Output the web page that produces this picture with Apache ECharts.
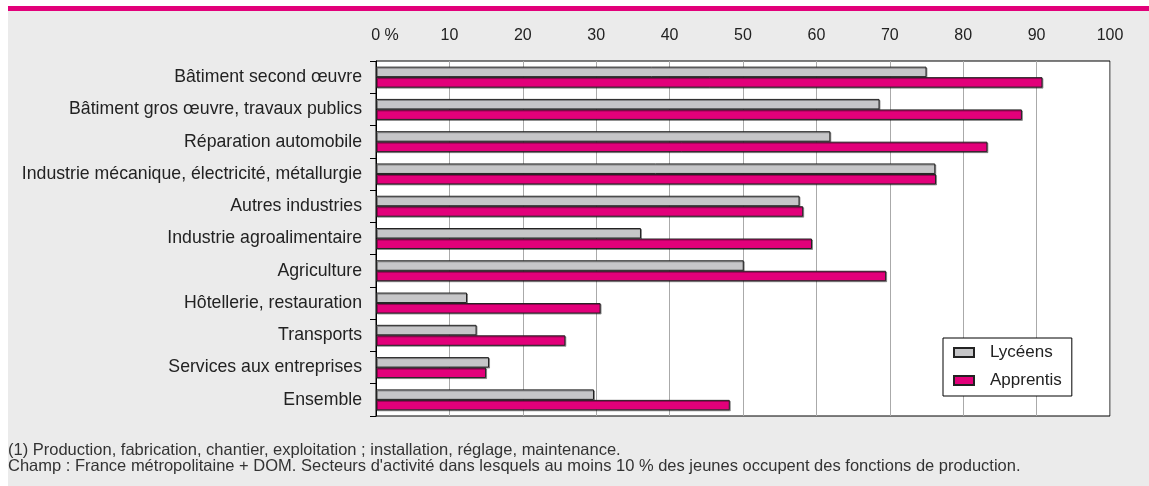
<!DOCTYPE html>
<html>
<head>
<meta charset="utf-8">
<script src="https://cdn.jsdelivr.net/npm/echarts@6/dist/echarts.min.js"></script>
<style>html,body{margin:0;padding:0;background:#fff}#c{width:1149px;height:486px}</style>
</head>
<body>
<div id="c"></div>
<script>
const categories = ['Bâtiment second œuvre','Bâtiment gros œuvre, travaux publics','Réparation automobile','Industrie mécanique, électricité, métallurgie','Autres industries','Industrie agroalimentaire','Agriculture','Hôtellerie, restauration','Transports','Services aux entreprises','Ensemble'];
const lyceens = [75.0, 68.6, 61.9, 76.2, 57.7, 36.1, 50.1, 12.4, 13.7, 15.4, 29.7];
const apprentis = [90.8, 88.0, 83.3, 76.3, 58.2, 59.4, 69.5, 30.6, 25.8, 15.0, 48.2];
const seriesNames = ['Lycéens', 'Apprentis'];
const footnotes = [
  '(1) Production, fabrication, chantier, exploitation ; installation, réglage, maintenance.',
  "Champ : France métropolitaine + DOM. Secteurs d'activité dans lesquels au moins 10 % des jeunes occupent des fonctions de production."
];

const FONT = 'Liberation Sans';
const chart = echarts.init(document.getElementById('c'), null, {renderer: 'canvas'});
chart.setOption({
  backgroundColor: '#ffffff',
  animation: false,
  textStyle: {fontFamily: FONT},
  graphic: [
    {type: 'rect', z: -10, silent: true, shape: {x: 8, y: 11, width: 1141, height: 475}, style: {fill: '#ebebeb'}},
    {type: 'rect', z: -10, silent: true, shape: {x: 8, y: 6, width: 1141, height: 5}, style: {fill: '#e2007a'}},
    {type: 'text', left: 8, top: 442, style: {text: footnotes[0], font: '16.5px "Liberation Sans"', fill: '#333'}},
    {type: 'text', left: 8, top: 458, style: {text: footnotes[1], font: '16.5px "Liberation Sans"', fill: '#333'}}
  ],
  grid: {left: 376, right: 39, top: 61, bottom: 70, show: true, backgroundColor: '#ffffff', borderColor: '#000', borderWidth: 1, containLabel: false},
  legend: {
    orient: 'vertical', left: 943, top: 338,
    backgroundColor: '#ffffff', borderColor: '#000', borderWidth: 1,
    padding: [6, 10, 7, 10], itemWidth: 20, itemHeight: 9, itemGap: 11,
    icon: 'rect',
    textStyle: {fontSize: 17, color: '#222', fontFamily: FONT, padding: [0, 0, 0, 11]},
    data: seriesNames
  },
  xAxis: {
    type: 'value', position: 'top', min: 0, max: 100, interval: 10,
    axisLine: {show: false}, axisTick: {show: false},
    splitLine: {show: true, lineStyle: {color: '#aaaaaa', width: 1}},
    axisLabel: {
      fontSize: 16, color: '#222', margin: 17, fontFamily: FONT,
      formatter: function (v) { return v === 0 ? '{z|0 %}' : String(v); },
      rich: {z: {fontSize: 16, color: '#222', fontFamily: FONT, padding: [0, 0, 0, 18]}}
    }
  },
  yAxis: {
    type: 'category', data: categories, inverse: true,
    axisLine: {show: true, lineStyle: {color: '#000'}},
    axisTick: {show: true, length: 6, lineStyle: {color: '#000'}},
    axisLabel: {fontSize: 17.7, color: '#222', margin: 14, fontFamily: FONT}
  },
  series: [
    {name: seriesNames[0], type: 'bar', data: lyceens, barGap: '0%', barCategoryGap: '35%',
     itemStyle: {color: '#c6c6c8', borderColor: '#222', borderWidth: 1, shadowColor: 'rgba(0,0,0,0.35)', shadowOffsetX: 1, shadowOffsetY: 1}},
    {name: seriesNames[1], type: 'bar', data: apprentis, barGap: '0%', barCategoryGap: '35%',
     itemStyle: {color: '#e2007a', borderColor: '#222', borderWidth: 1, shadowColor: 'rgba(0,0,0,0.35)', shadowOffsetX: 1, shadowOffsetY: 1}}
  ]
});
</script>
</body>
</html>
